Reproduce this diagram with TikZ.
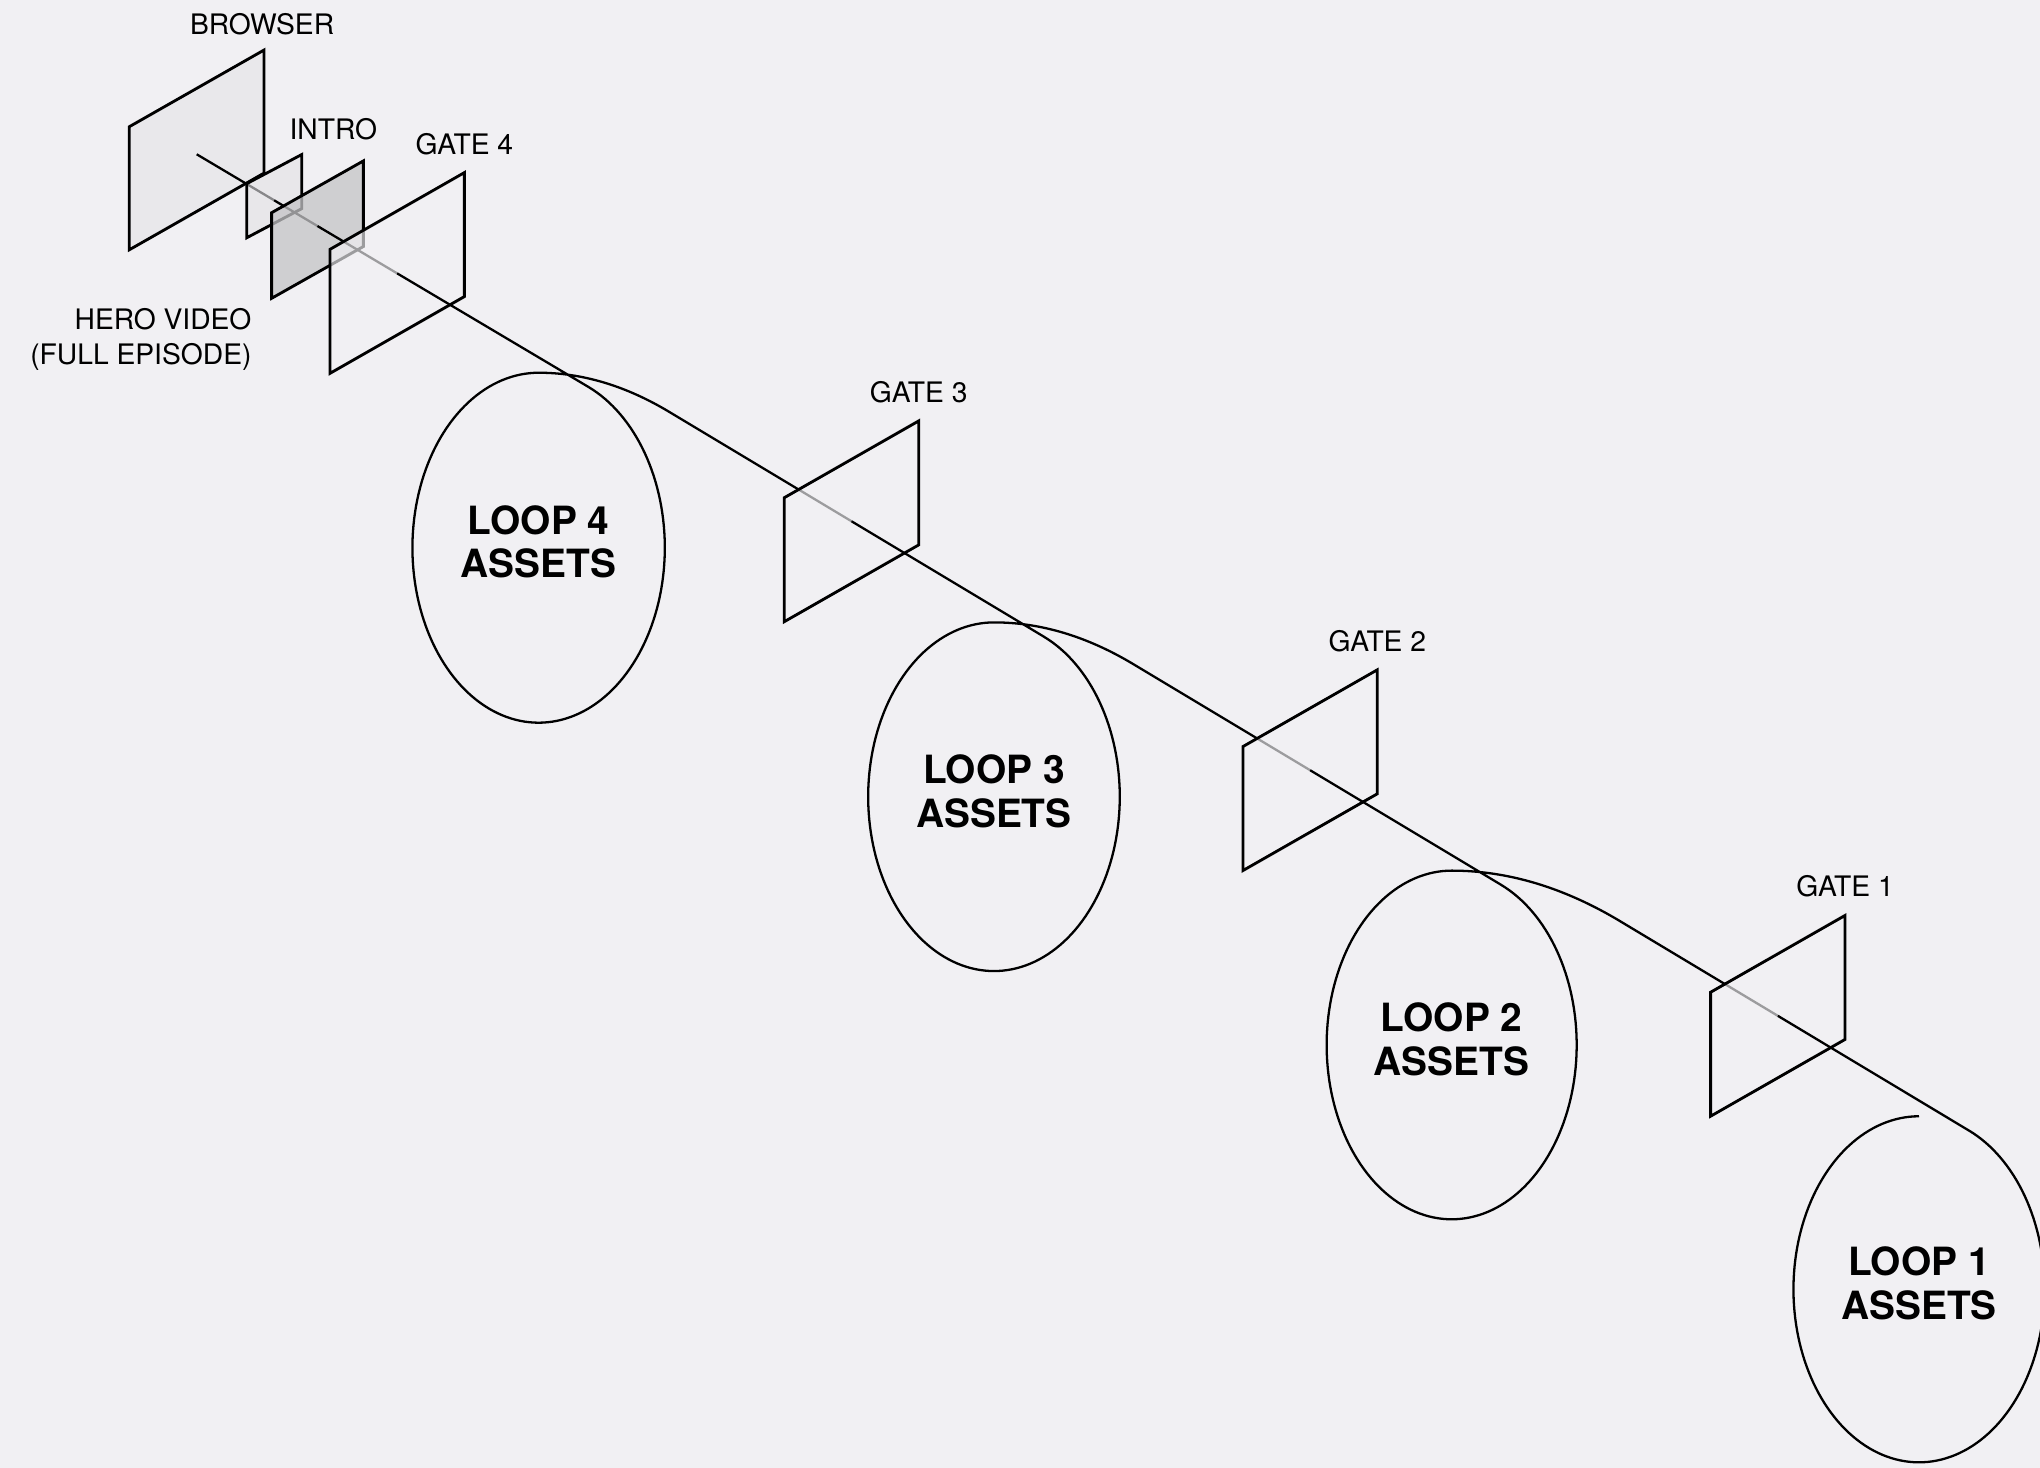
\documentclass[tikz,border=0pt]{standalone}
\usepackage{fontspec}
\setmainfont{TeX Gyre Heros}

\definecolor{paper}{RGB}{241,240,243}
\definecolor{browserfill}{RGB}{233,232,235}
\definecolor{introfill}{RGB}{226,225,229}
\definecolor{herofill}{RGB}{196,196,198}

\tikzset{
  flow/.style={line width=0.5pt, draw=black, line join=round},
  panel/.style={line width=0.62pt, draw=black, line join=miter},
  gatepanel/.style={panel, fill=paper, fill opacity=0.65},
  lbl/.style={font=\fontsize{6.17}{7.68}\selectfont, inner sep=0pt, anchor=base},
  looplbl/.style={font=\fontsize{8.5}{9.6}\selectfont\bfseries, align=center, inner sep=0pt},
}

% slanted frame: style, centre x, centre y, half width, half rise, half height
\newcommand{\drawpanel}[6]{%
  \path[#1] (#2-#4,#3+#5-#6) -- (#2+#4,#3-#5-#6) -- (#2+#4,#3-#5+#6)
    -- (#2-#4,#3+#5+#6) -- cycle;}

\begin{document}
\begin{tikzpicture}[x=0.01cm, y=-0.01cm]
  \fill[paper] (0,0) rectangle (1568,1128);
  \useasboundingbox (0,0) rectangle (1568,1128);

  % points where the strip pierces each frame
  \coordinate (start)  at (151.2,118.6);
  \coordinate (pIntro) at (210.75,153.98);
  \coordinate (pHero)  at (244.05,173.76);
  \coordinate (pGate4) at (305.25,210.12);
  \coordinate (pGate3) at (654.5,400.66);
  \coordinate (pGate2) at (1007,592.02);
  \coordinate (pGate1) at (1366.5,780.8);
  % tangent entry points on the loops
  \coordinate (tan4) at (452.52,297.56);
  \coordinate (tan3) at (802.42,489.43);
  \coordinate (tan2) at (1153.79,680.11);
  \coordinate (tan1) at (1513.52,869.07);
  % where the exit curves rejoin the straight strip
  \coordinate (out4) at (514.3,316.54);
  \coordinate (out3) at (871.33,510.62);
  \coordinate (out2) at (1245.2,708.02);

  % browser and the stacked frames, back to front
  \drawpanel{panel, fill=browserfill}{151.15}{115.25}{51.75}{29.45}{47.3}
  \draw[flow] (start) -- (pIntro);
  \drawpanel{panel, fill=introfill, fill opacity=0.6}{210.75}{150.8}{21.15}{11.2}{20.8}
  \draw[flow] (pIntro) -- (pHero);
  \drawpanel{panel, fill=herofill, fill opacity=0.75}{244.05}{176.5}{35.25}{19.9}{32.9}
  \draw[flow] (pHero) -- (pGate4);
  \drawpanel{gatepanel}{305.25}{209.85}{51.65}{29.5}{47.65}

  % loop 4
  \draw[flow] (pGate4) -- (tan4)
    -- plot[domain=-66.6:270, samples=160, variable=\t] ({414+97*cos(\t)}, {421+134.5*sin(\t)})
    .. controls (447.4,286.5) and (480.9,296.5) .. (out4) -- (pGate3);
  \drawpanel{gatepanel}{654.5}{400.7}{51.65}{29.5}{47.65}

  % loop 3
  \draw[flow] (pGate3) -- (tan3)
    -- plot[domain=-66.59:270, samples=160, variable=\t] ({764+96.7*cos(\t)}, {612.4+134*sin(\t)})
    .. controls (799.78,478.4) and (835.55,489.13) .. (out3) -- (pGate2);
  \drawpanel{gatepanel}{1007}{592.0}{51.65}{29.5}{47.65}

  % loop 2
  \draw[flow] (pGate2) -- (tan2)
    -- plot[domain=-66.72:270, samples=160, variable=\t] ({1115.8+96.1*cos(\t)}, {803.2+134*sin(\t)})
    .. controls (1158.93,669.2) and (1202.07,682.14) .. (out2) -- (pGate1);
  \drawpanel{gatepanel}{1366.5}{780.8}{51.65}{29.5}{47.65}

  % loop 1, the open end of the strip
  \draw[flow] (pGate1) -- (tan1)
    -- plot[domain=-66.47:270, samples=160, variable=\t] ({1475+96.5*cos(\t)}, {991+133*sin(\t)});

  % loop captions
  \node[looplbl] (loop4) at (414,416.5)   {LOOP 4\\ASSETS};
  \node[looplbl] (loop3) at (764,607.9)   {LOOP 3\\ASSETS};
  \node[looplbl] (loop2) at (1115.8,798.7) {LOOP 2\\ASSETS};
  \node[looplbl] (loop1) at (1475,986.5)  {LOOP 1\\ASSETS};

  % frame labels
  \node[lbl] (browserlbl) at (201.5,26.9) {BROWSER};
  \node[lbl] (introlbl) at (256.2,107.1) {INTRO};
  \node[lbl, anchor=north east, align=right] (herolbl) at (194,236.4) {HERO VIDEO\\(FULL EPISODE)};
  \node[lbl] (gate4lbl) at (356.9,118.4) {GATE 4};
  \node[lbl] (gate3lbl) at (706.15,309.25) {GATE 3};
  \node[lbl] (gate2lbl) at (1058.65,500.55) {GATE 2};
  \node[lbl] (gate1lbl) at (1418.15,689.35) {GATE 1};
\end{tikzpicture}
\end{document}
